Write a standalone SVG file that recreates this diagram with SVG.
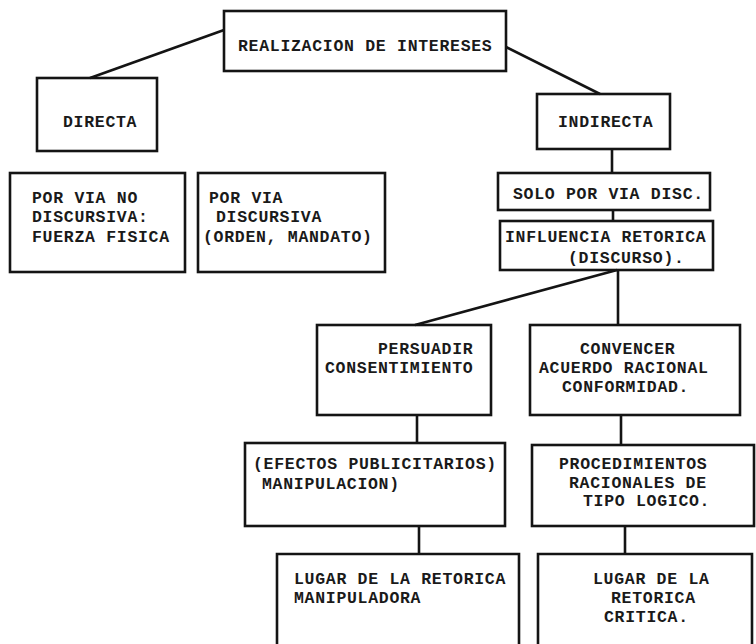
<svg xmlns="http://www.w3.org/2000/svg" width="756" height="644" viewBox="0 0 756 644">
<style>
.b{fill:none;stroke:#141414;stroke-width:2.6;stroke-linejoin:miter}
.c line{stroke:#141414;stroke-width:2.6}
text{font-family:"Liberation Mono","DejaVu Sans Mono",monospace;font-weight:bold;font-size:16.5px;letter-spacing:0.7px;fill:#1a1a1a}
</style>
<rect width="756" height="644" fill="#fff"/>
<g id="connectors" class="c">
<line x1="224" y1="30" x2="90" y2="78"/>
<line x1="506" y1="47" x2="600" y2="94"/>
<line x1="612" y1="149" x2="612" y2="173"/>
<line x1="613" y1="210" x2="613" y2="221"/>
<line x1="617" y1="270" x2="415" y2="325"/>
<line x1="618" y1="270" x2="618" y2="325"/>
<line x1="417" y1="415" x2="417" y2="443"/>
<line x1="621" y1="415" x2="621" y2="445"/>
<line x1="419" y1="526" x2="419" y2="554"/>
<line x1="625" y1="526" x2="625" y2="554"/>
</g>
<g id="realizacion"><rect class="b" x="224" y="11" width="282" height="60"/><text x="238" y="51">REALIZACION DE INTERESES</text></g>
<g id="directa"><rect class="b" x="37" y="78" width="120" height="73"/><text x="63" y="127">DIRECTA</text></g>
<g id="indirecta"><rect class="b" x="537" y="94" width="133" height="55"/><text x="558" y="127">INDIRECTA</text></g>
<g id="no-discursiva"><rect class="b" x="10" y="173" width="175" height="99"/>
<text x="32" y="203">POR VIA NO</text><text x="32" y="222">DISCURSIVA:</text><text x="32" y="242">FUERZA FISICA</text></g>
<g id="discursiva"><rect class="b" x="198" y="173" width="187" height="99"/>
<text x="209" y="203">POR VIA</text><text x="216" y="222">DISCURSIVA</text><text x="203" y="242">(ORDEN, MANDATO)</text></g>
<g id="solo"><rect class="b" x="498" y="173" width="212" height="37"/><text x="513" y="199">SOLO POR VIA DISC.</text></g>
<g id="influencia"><rect class="b" x="500" y="221" width="213" height="49"/>
<text x="505" y="242">INFLUENCIA RETORICA</text><text x="568" y="263">(DISCURSO).</text></g>
<g id="persuadir"><rect class="b" x="317" y="325" width="174" height="90"/>
<text x="378" y="354">PERSUADIR</text><text x="325" y="373">CONSENTIMIENTO</text></g>
<g id="convencer"><rect class="b" x="530" y="325" width="210" height="90"/>
<text x="580" y="354">CONVENCER</text><text x="539" y="373">ACUERDO RACIONAL</text><text x="562" y="392">CONFORMIDAD.</text></g>
<g id="efectos"><rect class="b" x="245" y="443" width="260" height="83"/>
<text x="253" y="469">(EFECTOS PUBLICITARIOS)</text><text x="262" y="489">MANIPULACION)</text></g>
<g id="procedimientos"><rect class="b" x="532" y="445" width="222" height="81"/>
<text x="559" y="469">PROCEDIMIENTOS</text><text x="569" y="488">RACIONALES DE</text><text x="583" y="506">TIPO LOGICO.</text></g>
<g id="manipuladora"><path class="b" d="M277 646 V554 H519 V646"/>
<text x="294" y="584">LUGAR DE LA RETORICA</text><text x="294" y="603">MANIPULADORA</text></g>
<g id="critica"><path class="b" d="M538 646 V554 H752 V646"/>
<text x="593" y="584">LUGAR DE LA</text><text x="611" y="603">RETORICA</text><text x="604" y="622">CRITICA.</text></g>
</svg>
